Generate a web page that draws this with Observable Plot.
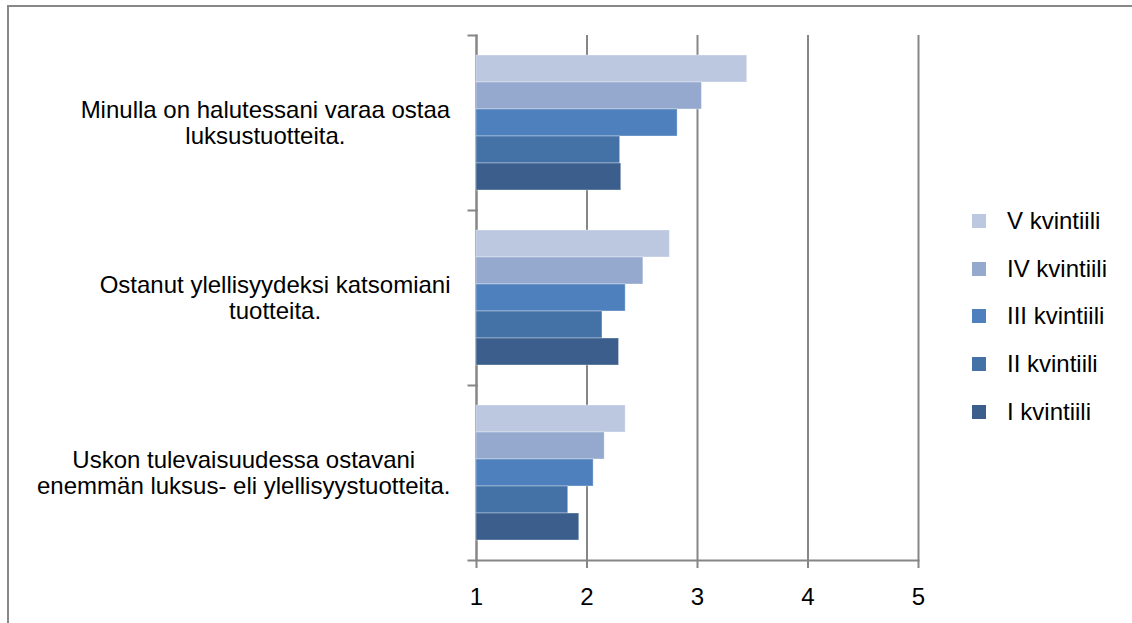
<!DOCTYPE html>
<html>
<head>
<meta charset="utf-8">
<script src="https://cdn.jsdelivr.net/npm/d3@7"></script>
<script src="https://cdn.jsdelivr.net/npm/@observablehq/plot@0.6"></script>
<style>
  html, body { margin: 0; padding: 0; background: #fff; }
  #wrap { position: relative; width: 1132px; height: 623px; overflow: hidden; font-family: "Liberation Sans", Arial, sans-serif; }
  #border { position: absolute; left: 7px; top: 5px; width: 1200px; height: 700px; border-left: 2px solid #888; border-top: 2px solid #888; box-sizing: border-box; }
  #legend { position: absolute; left: 972px; top: 197px; }
  .row { height: 47.75px; display: flex; align-items: center; font-size: 24px; color: #000; white-space: nowrap; }
  .sw { width: 14px; height: 14px; margin-right: 21px; flex: none; }
  svg { position: absolute; left: 0; top: 0; }
</style>
</head>
<body>
<div id="wrap"><div id="border"></div><div id="legend"></div></div>
<script>
const categories = [
  "Minulla on halutessani varaa ostaa\nluksustuotteita.",
  "Ostanut ylellisyydeksi katsomiani\ntuotteita.",
  "Uskon tulevaisuudessa ostavani\nenemmän luksus- eli ylellisyystuotteita."
];
const quintiles = ["V kvintiili", "IV kvintiili", "III kvintiili", "II kvintiili", "I kvintiili"];
const valuesV   = [3.45, 2.75, 2.35];
const valuesIV  = [3.04, 2.51, 2.16];
const valuesIII = [2.82, 2.35, 2.06];
const valuesII  = [2.30, 2.14, 1.83];
const valuesI   = [2.31, 2.29, 1.93];
const colors = ["#BCC8E0", "#95A9CF", "#4D80BC", "#4472A6", "#3B5E8C"];
const xTicks = [1, 2, 3, 4, 5];

const series = [valuesV, valuesIV, valuesIII, valuesII, valuesI];
const rows = [];
quintiles.forEach((q, qi) => categories.forEach((c, ci) => rows.push({category: c, quintile: q, value: series[qi][ci]})));

const gray = "#868686";
const plot = Plot.plot({
  width: 1132,
  height: 623,
  marginLeft: 476,
  marginRight: 214,
  marginTop: 35,
  marginBottom: 63,
  style: {fontFamily: "'Liberation Sans', Arial, sans-serif", fontSize: "24px", background: "transparent", overflow: "visible"},
  x: {domain: [1, 5], axis: null, label: null},
  fy: {domain: categories, padding: 0, axis: null},
  y: {domain: quintiles, paddingInner: 0, paddingOuter: 0.74, axis: null},
  color: {domain: quintiles, range: colors},
  marks: [
    Plot.gridX(xTicks, {stroke: gray, strokeWidth: 2, strokeOpacity: 1}),
    Plot.frame({anchor: "left", stroke: gray, strokeWidth: 2}),
    Plot.frame({anchor: "top", insetLeft: -8, insetRight: 442, stroke: gray, strokeWidth: 2}),
    Plot.frame({anchor: "bottom", insetLeft: -8, stroke: gray, strokeWidth: 2, facet: "super"}),
    Plot.barX(rows, {fy: "category", y: "quintile", x1: 1, x2: "value", fill: "quintile", stroke: "white", strokeOpacity: 0.35, strokeWidth: 1}),
    Plot.axisX(xTicks, {tickSize: 8, tickPadding: 19, fontSize: 24, stroke: gray, strokeWidth: 2, fill: "black", label: null, tickFormat: d => String(d)}),
    Plot.text(categories, {fy: d => d, text: d => d, frameAnchor: "left", dx: -26, textAnchor: "end", lineAnchor: "middle", lineHeight: 1.07, fontSize: 24, fill: "black"})
  ]
});
document.getElementById("wrap").appendChild(plot);

// center the wrapped lines of each category label within their (right-aligned) block
const flat = categories.map(c => c.replace(/\n/g, ""));
plot.querySelectorAll("text").forEach(t => {
  if (!flat.includes(t.textContent)) return;
  const w = t.getBBox().width;
  t.querySelectorAll("tspan").forEach(s => {
    s.setAttribute("text-anchor", "middle");
    s.setAttribute("x", String(-w / 2));
  });
});

const legend = document.getElementById("legend");
quintiles.forEach((q, i) => {
  const row = document.createElement("div");
  row.className = "row";
  const sw = document.createElement("div");
  sw.className = "sw";
  sw.style.background = colors[i];
  const tx = document.createElement("span");
  tx.textContent = q;
  row.appendChild(sw);
  row.appendChild(tx);
  legend.appendChild(row);
});
</script>
</body>
</html>
